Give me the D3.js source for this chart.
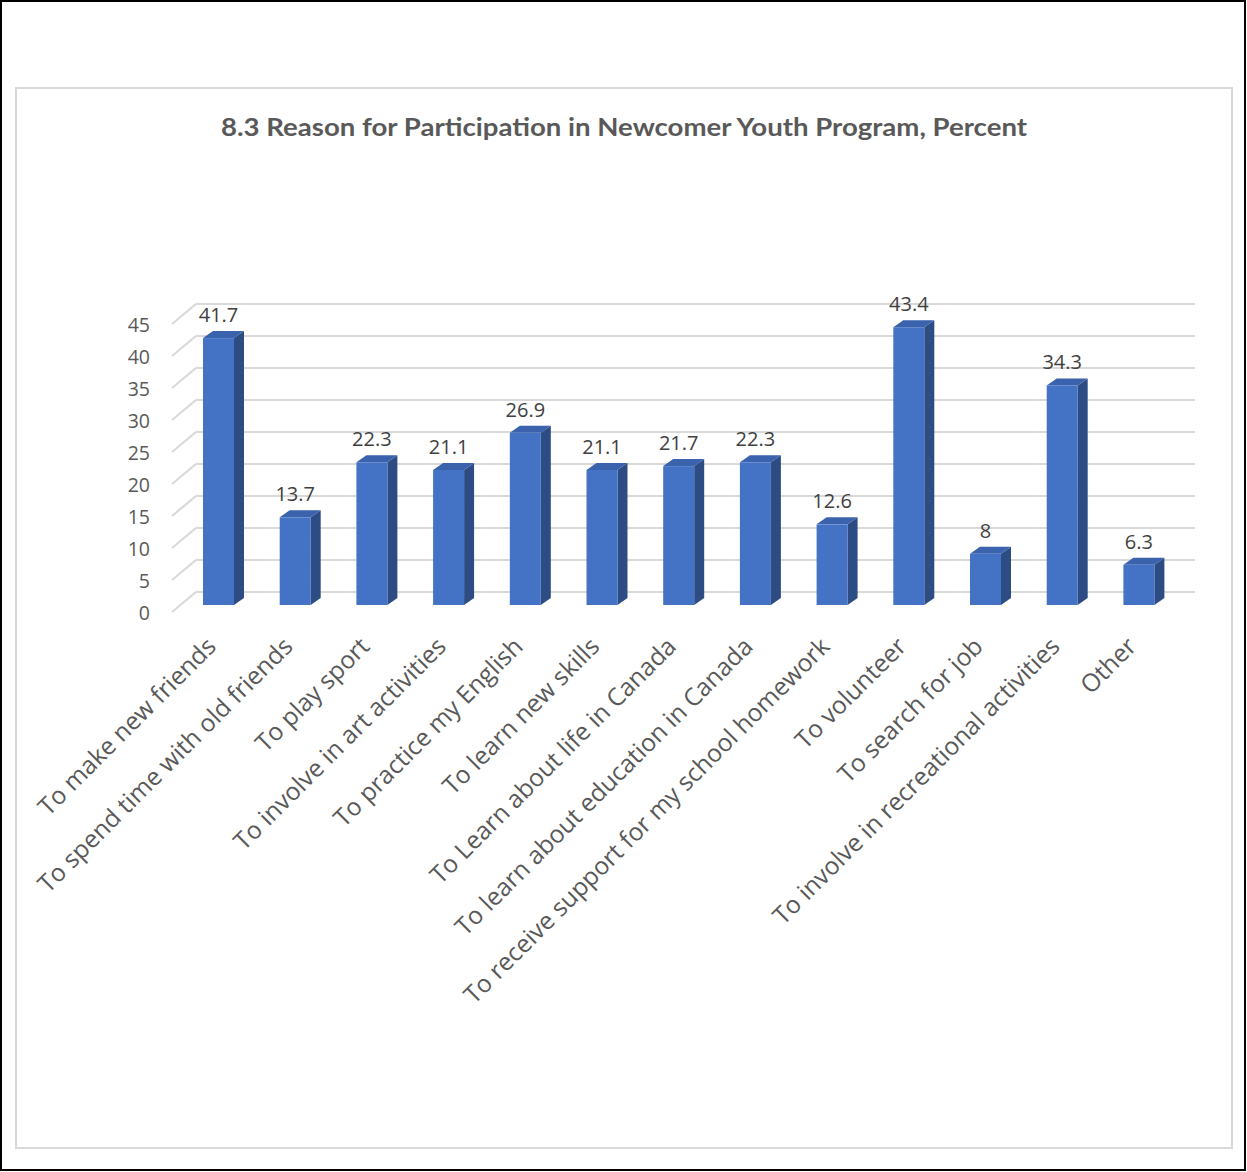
<!DOCTYPE html>
<html>
<head>
<meta charset="utf-8">
<script src="https://cdn.jsdelivr.net/npm/d3@7"></script>
<style>
  html, body { margin: 0; padding: 0; background: #fff; }
  svg { display: block; }
</style>
</head>
<body>
<svg id="chart" width="1247" height="1172"></svg>
<script>
// Survey results: reasons for joining the newcomer youth program (percent)
const categories = [
  "To make new friends",
  "To spend time with old friends",
  "To play sport",
  "To involve in art activities",
  "To practice my English",
  "To learn new skills",
  "To Learn about life in Canada",
  "To learn about education in Canada",
  "To receive support for my school homework",
  "To volunteer",
  "To search for job",
  "To involve in recreational activities",
  "Other"
];
const percents = [41.7, 13.7, 22.3, 21.1, 26.9, 21.1, 21.7, 22.3, 12.6, 43.4, 8, 34.3, 6.3];
const yTicks = [0, 5, 10, 15, 20, 25, 30, 35, 40, 45];
const chartTitle = "8.3 Reason for Participation in Newcomer Youth Program, Percent";

const svg = d3.select("#chart");
const textColor = "#595959";
const gridColor = "#D9D9D9";

// frames
svg.append("rect").attr("x", 1).attr("y", 1).attr("width", 1244).attr("height", 1169)
  .attr("fill", "none").attr("stroke", "#000").attr("stroke-width", 2);
svg.append("rect").attr("x", 16).attr("y", 88).attr("width", 1216).attr("height", 1060)
  .attr("fill", "#fff").attr("stroke", gridColor).attr("stroke-width", 2);

// title
svg.append("text")
  .attr("x", 624).attr("y", 136)
  .attr("text-anchor", "middle")
  .attr("font-family", "Lato, 'Open Sans', sans-serif")
  .attr("font-weight", "bold")
  .attr("font-size", 24)
  .attr("textLength", 806)
  .attr("lengthAdjust", "spacingAndGlyphs")
  .attr("fill", textColor)
  .text(chartTitle);

// scales: front plane of the bars and the back wall (shifted up by the depth)
const x = d3.scaleBand()
  .domain(categories)
  .range([180.15, 1177.25])
  .paddingInner(0.596)
  .paddingOuter(0.298);
const y = d3.scaleLinear().domain([0, 45]).range([605, 317]);
const depthX = 10, depthY = -7;          // bar top/side extrusion
const wallShift = -13;                   // back wall is above the bar base
const wallLeft = 196, wallRight = 1195;  // back wall extent
const sideDX = -24, sideDY = 20;         // left side wall diagonal

const yWall = v => y(v) + wallShift;

// gridlines: back wall + left side-wall diagonals
const grid = svg.append("g").attr("stroke", gridColor).attr("stroke-width", 2.2).attr("fill", "none");
grid.selectAll("line.back").data(yTicks).join("line")
  .attr("class", "back")
  .attr("x1", wallLeft).attr("x2", wallRight)
  .attr("y1", d => yWall(d)).attr("y2", d => yWall(d));
grid.selectAll("line.side").data(yTicks).join("line")
  .attr("class", "side")
  .attr("x1", wallLeft).attr("y1", d => yWall(d))
  .attr("x2", wallLeft + sideDX).attr("y2", d => yWall(d) + sideDY);

// y tick labels sit at the front end of the side-wall diagonals
svg.append("g").selectAll("text").data(yTicks).join("text")
  .attr("x", 150)
  .attr("y", d => yWall(d) + sideDY)
  .attr("text-anchor", "end")
  .attr("dominant-baseline", "central")
  .attr("font-family", "'Open Sans', sans-serif")
  .attr("font-size", 19.5)
  .attr("fill", textColor)
  .text(d => d);

// 3D columns
const data = categories.map((c, i) => ({ c, v: percents[i] }));
const bw = x.bandwidth();
const bars = svg.append("g").selectAll("g").data(data).join("g");

// side face
bars.append("path")
  .attr("fill", "#2E4C84")
  .attr("d", d => {
    const x1 = x(d.c) + bw, yt = y(d.v), yb = y(0);
    return `M${x1},${yb} L${x1},${yt} L${x1 + depthX},${yt + depthY} L${x1 + depthX},${yb + depthY} Z`;
  });
// top face
bars.append("path")
  .attr("fill", "#3A62AD")
  .attr("d", d => {
    const x0 = x(d.c), x1 = x0 + bw, yt = y(d.v);
    return `M${x0},${yt} L${x0 + depthX},${yt + depthY} L${x1 + depthX},${yt + depthY} L${x1},${yt} Z`;
  });
// front face
bars.append("rect")
  .attr("fill", "#4472C4")
  .attr("x", d => x(d.c))
  .attr("y", d => y(d.v))
  .attr("width", bw)
  .attr("height", d => y(0) - y(d.v));

// value labels
bars.append("text")
  .attr("x", d => x(d.c) + bw / 2)
  .attr("y", d => y(d.v) - 16)
  .attr("text-anchor", "middle")
  .attr("font-family", "'Open Sans', sans-serif")
  .attr("font-size", 20)
  .attr("fill", "#404040")
  .text(d => d.v);

// category labels, rotated 45 degrees
svg.append("g").selectAll("text").data(categories).join("text")
  .attr("transform", d => `translate(${x(d) + bw / 2 - 1},${648}) rotate(-45)`)
  .attr("text-anchor", "end")
  .attr("font-family", "'Open Sans', sans-serif")
  .attr("font-size", 24.6)
  .attr("fill", textColor)
  .text(d => d);
</script>
</body>
</html>
